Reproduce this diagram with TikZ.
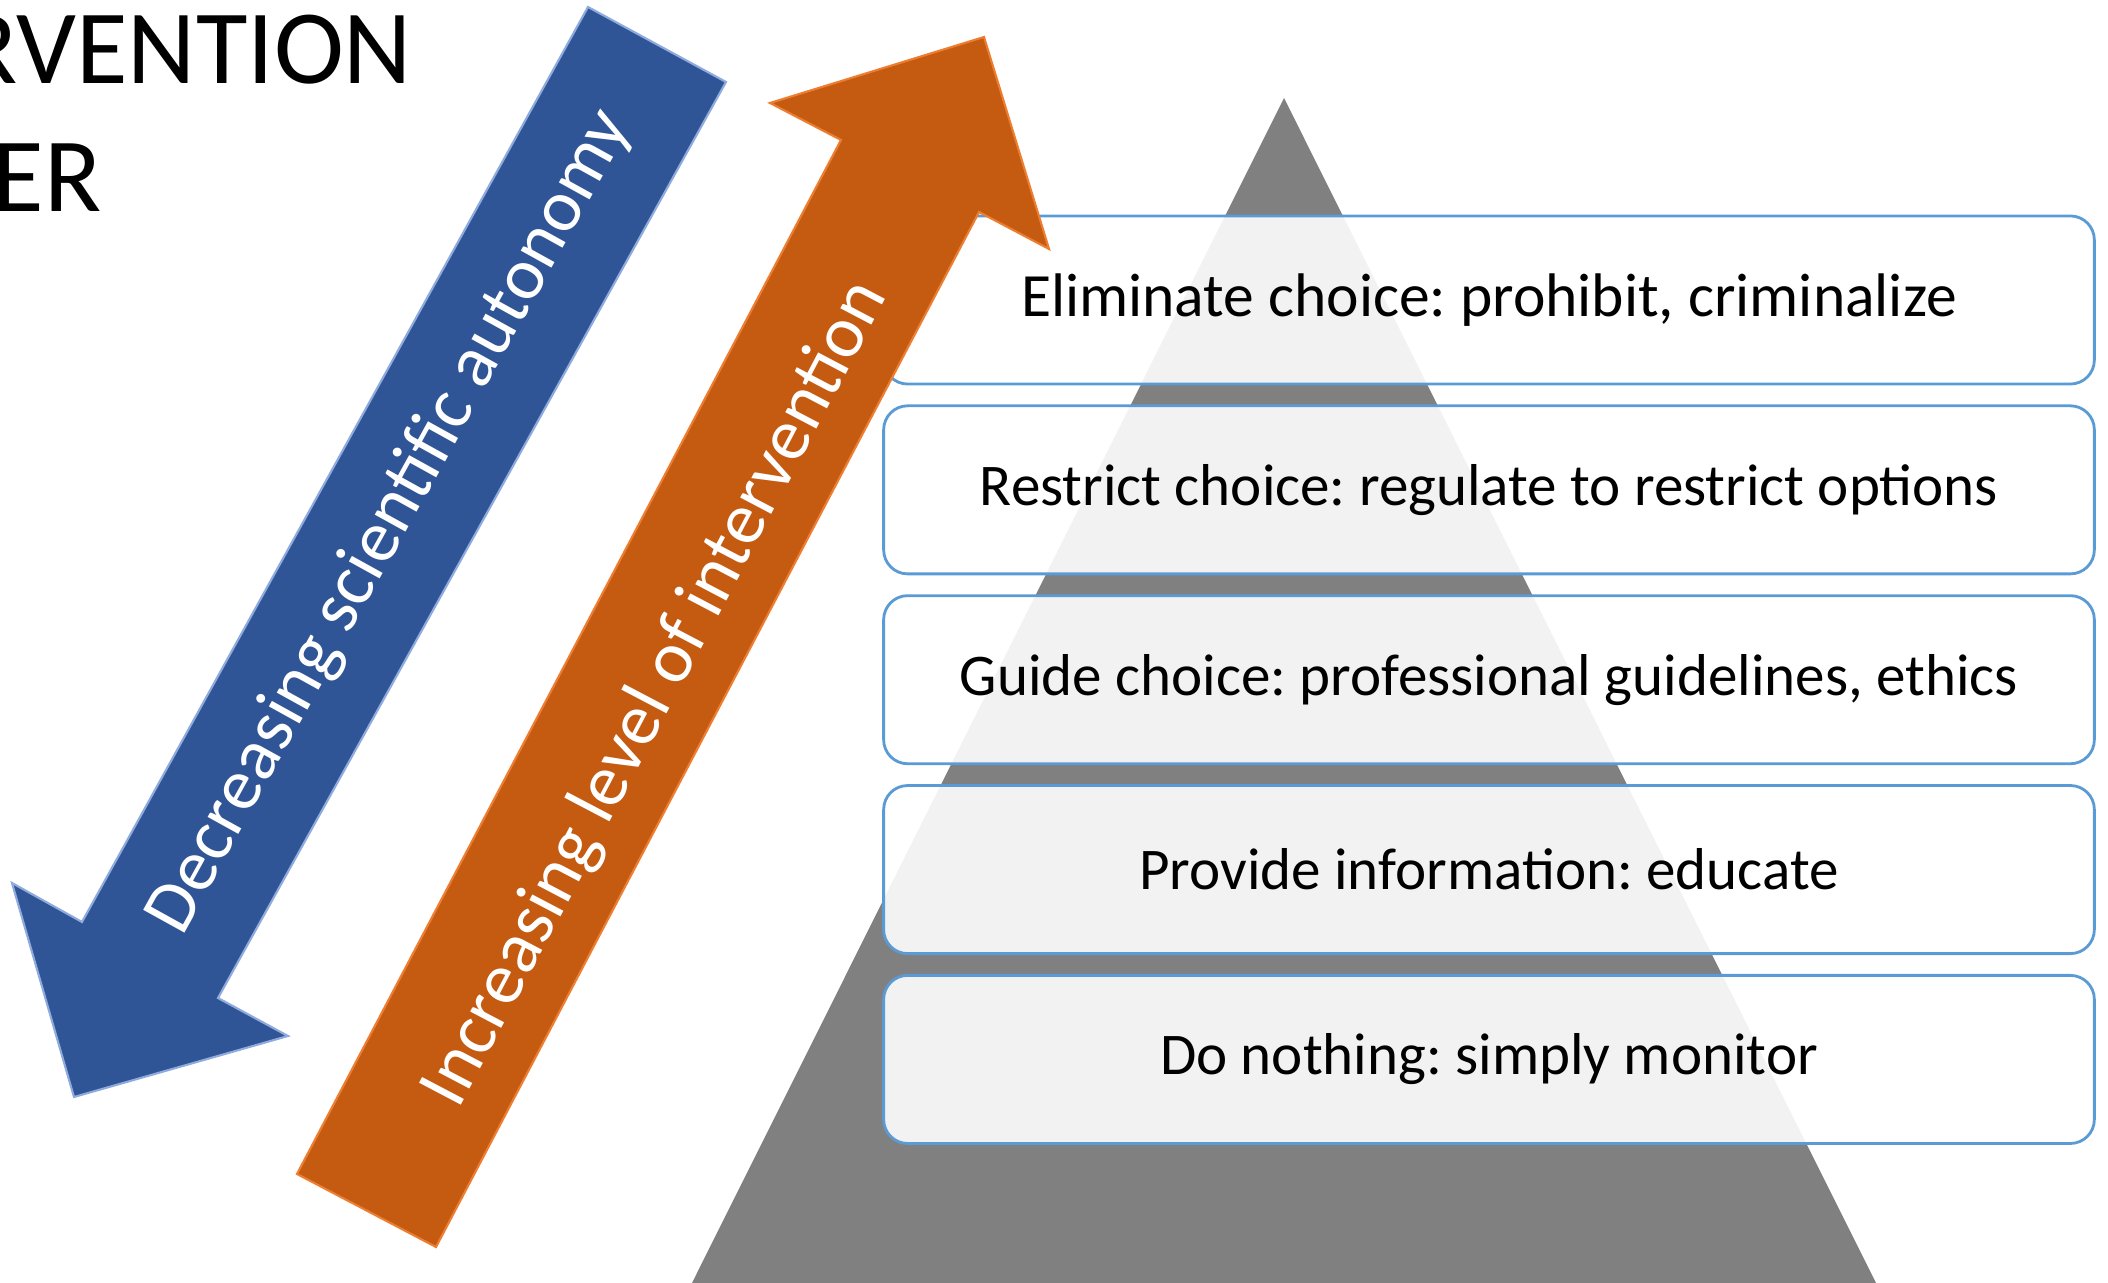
\documentclass[tikz,border=0pt]{standalone}
\usepackage{fontspec}
\setmainfont{Carlito}
\usetikzlibrary{positioning}
\frenchspacing
\definecolor{pyramidgray}{HTML}{808080}
\definecolor{rungblue}{HTML}{5B9BD5}
\definecolor{autoblue}{HTML}{2F5597}
\definecolor{autoedge}{HTML}{8FAADC}
\definecolor{interorange}{HTML}{C55A11}
\definecolor{interedge}{HTML}{ED7D31}
\tikzset{
  rung/.style={draw=rungblue, line width=0.8pt, fill=white, fill opacity=0.9, text opacity=1,
    rounded corners=0.24cm, minimum width=12.1cm, minimum height=1.68cm, outer sep=0pt,
    font=\fontsize{16.8}{20}\selectfont},
  arrowlabel/.style={text=white, inner sep=0pt, font=\fontsize{20.9}{25}\selectfont},
  headline/.style={anchor=base west, inner sep=0pt, font=\fontsize{30}{36}\selectfont}
}
\begin{document}
\begin{tikzpicture}[x=0.01cm, y=-0.01cm, node distance=0.2175cm]
        \useasboundingbox (0,0) rectangle (2108,1283);
        \clip (0,0) rectangle (2108,1283);
        \fill[pyramidgray] (692,1283) -- (1284,98) -- (1876,1283) -- cycle;
        \node[rung, font=\fontsize{17.5}{21}\selectfont] (rung1) at (1489,300) {Eliminate choice: prohibit, criminalize};
        \node[rung, below=of rung1] (rung2) {Restrict choice: regulate to restrict options};
        \node[rung, below=of rung2] (rung3) {Guide choice: professional guidelines, ethics};
        \node[rung, below=of rung3] (rung4) {Provide information: educate};
        \node[rung, below=of rung4] (rung5) {Do nothing: simply monitor};
        \draw[autoedge, fill=autoblue, line width=0.6pt] (588,7) -- (726,82) -- (218,998) -- (288,1036)
            -- (74,1097) -- (12,883) -- (82,922) -- cycle;
        \node[arrowlabel, rotate=61.05] (autonomy) at (390,522) {Decreasing scientific autonomy};
        \draw[interedge, fill=interorange, line width=0.6pt] (297,1174) -- (841,140) -- (770,103) -- (984,37)
            -- (1049,249) -- (979,212) -- (436,1247) -- cycle;
        \node[arrowlabel, rotate=62.28] (intervention) at (656,694) {Increasing level of intervention};
        \node[headline] (titletop) at (-40,84) {RVENTION};
        \node[headline] (titlebottom) at (-8,212) {ER};
    \end{tikzpicture}
\end{document}
